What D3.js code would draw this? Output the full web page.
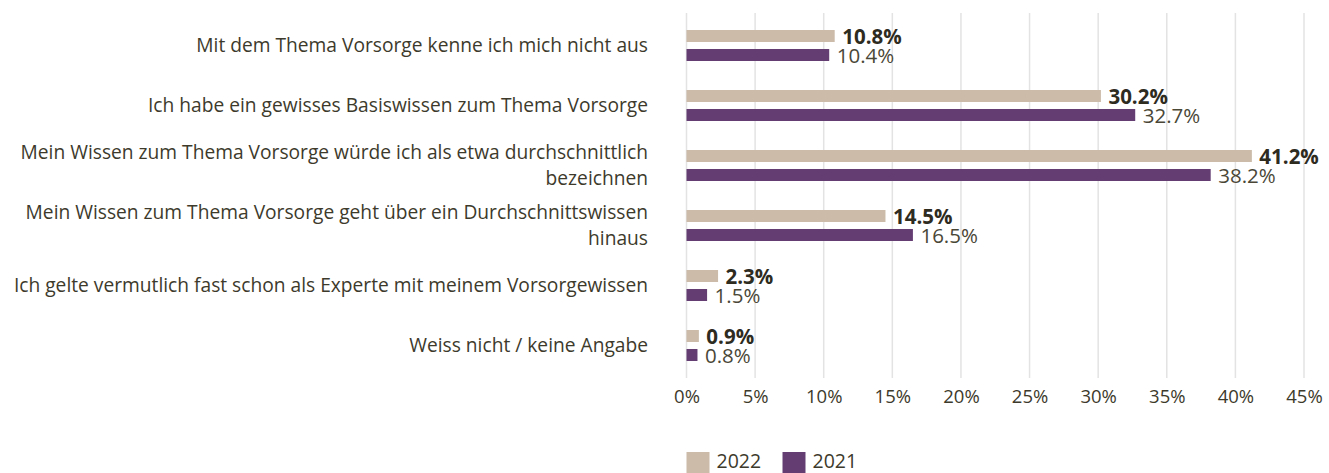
<!DOCTYPE html>
<html>
<head>
<meta charset="utf-8">
<script src="https://cdn.jsdelivr.net/npm/d3@7"></script>
<style>
  body { margin: 0; background: #fff; }
  svg { display: block; font-family: "Open Sans", "Noto Sans", sans-serif; }
</style>
</head>
<body>
<svg id="chart" width="1329" height="473"></svg>
<script>
const categories = [
  ["Mit dem Thema Vorsorge kenne ich mich nicht aus"],
  ["Ich habe ein gewisses Basiswissen zum Thema Vorsorge"],
  ["Mein Wissen zum Thema Vorsorge würde ich als etwa durchschnittlich", "bezeichnen"],
  ["Mein Wissen zum Thema Vorsorge geht über ein Durchschnittswissen", "hinaus"],
  ["Ich gelte vermutlich fast schon als Experte mit meinem Vorsorgewissen"],
  ["Weiss nicht / keine Angabe"]
];
const seriesNames = ["2022", "2021"];
const values2022 = [10.8, 30.2, 41.2, 14.5, 2.3, 0.9];
const values2021 = [10.4, 32.7, 38.2, 16.5, 1.5, 0.8];
const tickValues = [0, 5, 10, 15, 20, 25, 30, 35, 40, 45];
const colors = ["#cbbba8", "#643e73"];

const svg = d3.select("#chart");
const mLeft = 686.5, mRight = 1304, mTop = 15.5, mBottom = 375.5;

const x = d3.scaleLinear().domain([0, 45]).range([mLeft, mRight]);
const y = d3.scaleBand().domain(d3.range(categories.length)).range([mTop, mBottom]);
const inner = d3.scaleBand().domain([0, 1]).range([-15.5, 15.5]).paddingInner(0.368);

// gridlines
svg.append("g").selectAll("line").data(tickValues).join("line")
  .attr("x1", d => x(d)).attr("x2", d => x(d))
  .attr("y1", 13).attr("y2", 378)
  .attr("stroke", "#e3e3e3").attr("stroke-width", 1.5);

// tick labels via axis
const axis = svg.append("g").attr("transform", `translate(0,${378})`)
  .call(d3.axisBottom(x).tickValues(tickValues).tickFormat(d => d + "%").tickSize(0).tickPadding(0));
axis.select(".domain").remove();
axis.selectAll("text").attr("font-size", 18.5).attr("fill", "#3d3a2c")
  .attr("font-family", "\"Open Sans\", sans-serif")
  .attr("y", 25).attr("dy", 0);

const series = [values2022, values2021];

series.forEach((vals, si) => {
  const g = svg.append("g");
  g.selectAll("rect").data(vals).join("rect")
    .attr("x", x(0))
    .attr("y", (d, i) => y(i) + y.bandwidth() / 2 + inner(si))
    .attr("width", d => x(d) - x(0))
    .attr("height", inner.bandwidth())
    .attr("fill", colors[si]);
  g.selectAll("text").data(vals).join("text")
    .attr("x", d => x(d) + 7.5)
    .attr("y", (d, i) => y(i) + y.bandwidth() / 2 + inner(si) + inner.bandwidth() + 2)
    .attr("font-size", si === 0 ? 20.5 : 20.5)
    .attr("font-weight", si === 0 ? "bold" : "normal")
    .attr("fill", si === 0 ? "#2e2b1f" : "#4a4737")
    .text(d => d.toFixed(1) + "%");
});

// category labels
const cl = svg.append("g");
categories.forEach((lines, i) => {
  const cy = y(i) + y.bandwidth() / 2;
  const lh = 26;
  const t = cl.append("text")
    .attr("text-anchor", "end")
    .attr("font-size", 19.2)
    .attr("fill", "#3d3a2c");
  lines.forEach((ln, j) => {
    t.append("tspan").attr("x", 648)
      .attr("y", cy + (j - (lines.length - 1) / 2) * lh + 6.5)
      .text(ln);
  });
});

// legend
const lg = svg.append("g");
const legendX = [686.5, 782.5];
seriesNames.forEach((n, i) => {
  lg.append("rect").attr("x", legendX[i]).attr("y", 452).attr("width", 23).attr("height", 21).attr("fill", colors[i]);
  lg.append("text").attr("x", legendX[i] + 30).attr("y", 468)
    .attr("font-size", 19.5).attr("fill", "#3d3a2c").text(n);
});
</script>
</body>
</html>
